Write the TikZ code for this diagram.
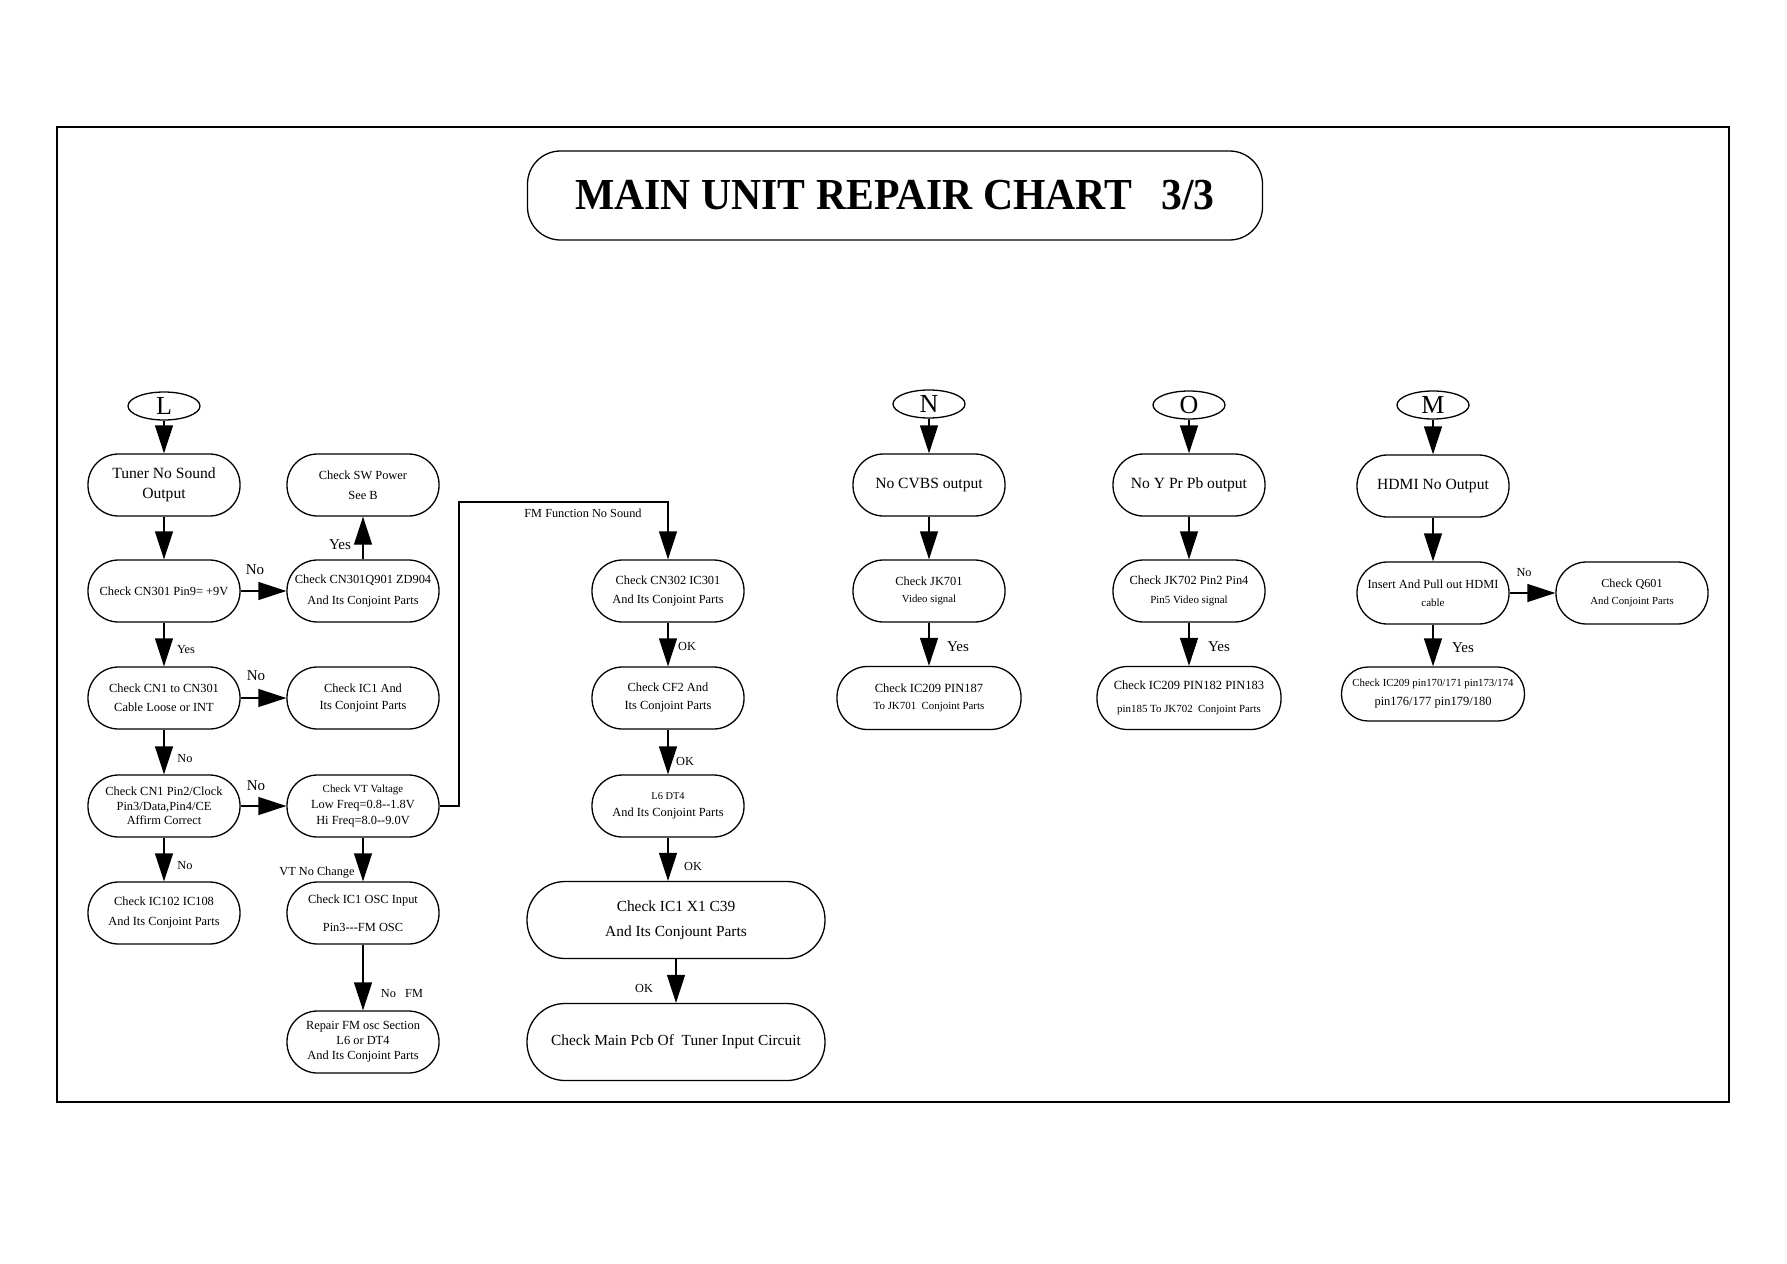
\documentclass[tikz,border=0pt]{standalone}
\usepackage{fontspec}
\setmainfont{Liberation Serif}
\usetikzlibrary{positioning,arrows.meta,shapes.geometric}
\newcommand{\fsz}[2]{\fontsize{#1}{#2}\selectfont}
\tikzset{
  pill/.style={draw, rectangle, line width=1.3pt, rounded corners=30.5pt, minimum width=152pt, minimum height=62pt, inner sep=0pt, align=center, font=\fsz{12.4}{19}},
  widepill/.style={pill, minimum width=184pt, minimum height=63pt},
  flatpill/.style={pill, minimum width=183pt, minimum height=54pt, rounded corners=26.5pt},
  bigpill/.style={pill, minimum width=298pt, minimum height=77pt, rounded corners=38pt, font=\fsz{15.4}{25}},
  oval/.style={ellipse, draw, line width=1.3pt, minimum width=72pt, minimum height=28pt, inner sep=0pt, font=\fsz{26}{26}},
  arr/.style={line width=1.3pt, -{Triangle[length=28pt,width=18pt]}},
  lbl/.style={inner sep=0pt, font=\fsz{12.3}{14}},
  biglbl/.style={inner sep=0pt, font=\fsz{15}{18}},
}
\begin{document}
\begin{tikzpicture}[x=1pt, y=-1pt]
  \useasboundingbox (0,0) rectangle (1787,1263);
  \draw[line width=1.4pt] (57,127) rectangle (1729,1102);
  \node[draw, line width=1.3pt, rounded corners=33pt, minimum width=735pt, minimum height=89pt, font=\fsz{43}{50}\bfseries] (title) at (895,195.5) {\scalebox{0.97}[1.03]{MAIN UNIT REPAIR CHART\hspace{30pt}3/3}};

  % L column
  \node[oval] (L) at (164,406) {L};
  \node[pill, font=\fsz{15.6}{20}] (tuner) at (164,485) {Tuner No Sound\\Output};
  \node[pill] (cn301) at (164,591) {Check CN301 Pin9= +9V};
  \node[pill] (cnone) at (164,698) {Check CN1 to CN301\\Cable Loose or INT};
  \node[pill, font=\fsz{12.4}{14.5}] (pintwo) at (164,806) {Check CN1 Pin2/Clock\\Pin3/Data,Pin4/CE\\Affirm Correct};
  \node[pill, font=\fsz{12.4}{20}] (icnum) at (164,913) {Check IC102 IC108\\And Its Conjoint Parts};

  \node[pill, font=\fsz{12.4}{20}] (swpow) at (363,485) {Check SW Power\\See B};
  \node[pill, font=\fsz{12.4}{21}] (cnq) at (363,591) {Check CN301Q901 ZD904\\And Its Conjoint Parts};
  \node[pill, font=\fsz{12.4}{17}] (icone) at (363,698) {Check IC1 And\\Its Conjoint Parts};
  \node[pill, font=\fsz{12.4}{16}] (vt) at (363,806) {{\fsz{10.9}{16}Check VT Valtage}\\Low Freq=0.8-{}-1.8V\\Hi Freq=8.0-{}-9.0V};
  \node[pill, font=\fsz{12.4}{28}] (osc) at (363,913) {Check IC1 OSC Input\\Pin3-{}-{}-FM OSC};
  \node[pill, font=\fsz{12.4}{15}] (repair) at (363,1042) {Repair FM osc Section\\L6 or DT4\\And Its Conjoint Parts};

  \node[pill] (cnthree) at (668,591) {Check CN302 IC301\\And Its Conjoint Parts};
  \node[pill, font=\fsz{12.4}{18}] (cftwo) at (668,698) {Check CF2 And\\Its Conjoint Parts};
  \node[pill, font=\fsz{12.4}{17}] (lsix) at (668,806) {{\fsz{10.4}{17}L6 DT4}\\And Its Conjoint Parts};
  \node[bigpill] (icx) at (676,920) {Check IC1 X1 C39\\And Its Conjount Parts};
  \node[bigpill] (mainpcb) at (676,1042) {Check Main Pcb Of\ \ Tuner Input Circuit};

  \draw[arr] (L) -- (tuner);
  \draw[arr] (tuner) -- (cn301);
  \draw[arr] (cn301) -- (cnq);
  \draw[arr] (cnq) -- (swpow);
  \draw[arr] (cn301) -- (cnone);
  \draw[arr] (cnone) -- (icone);
  \draw[arr] (cnone) -- (pintwo);
  \draw[arr] (pintwo) -- (vt);
  \draw[arr] (pintwo) -- (icnum);
  \draw[arr] (vt) -- (osc);
  \draw[arr] (osc) -- (repair);
  \coordinate (fmtop) at (459,502);
  \draw[arr] (vt.east) -| (fmtop) -| (cnthree.north);
  \draw[arr] (cnthree) -- (cftwo);
  \draw[arr] (cftwo) -- (lsix);
  \draw[arr] (lsix.south) -- (lsix.south |- icx.north);
  \draw[arr] (icx) -- (mainpcb);

  \node[biglbl] at (255,570) {No};
  \node[biglbl] at (340,545) {Yes};
  \node[lbl] at (186,650) {Yes};
  \node[biglbl] at (256,676) {No};
  \node[lbl] at (185,759) {No};
  \node[biglbl] at (256,786) {No};
  \node[lbl] at (185,866) {No};
  \node[lbl] at (317,873) {VT No Change};
  \node[lbl] at (402,994) {No\ \ \ FM};
  \node[lbl] at (583,513) {FM Function No Sound};
  \node[lbl] at (687,646) {OK};
  \node[lbl] at (685,761) {OK};
  \node[lbl] at (693,866) {OK};
  \node[lbl] at (644,988) {OK};

  % N, O, M columns
  \node[oval] (N) at (929,404) {N};
  \node[pill, font=\fsz{15.6}{20}] (cvbs) at (929,485) {No CVBS output};
  \node[pill, font=\fsz{12.4}{17}] (jkone) at (929,591) {Check JK701\\{\fsz{10.8}{17}Video signal}};
  \node[widepill, font=\fsz{12.5}{17}] (icpin) at (929,698) {Check IC209 PIN187\\{\fsz{10.9}{17}To JK701\ \ Conjoint Parts}};

  \node[oval] (O) at (1189,405) {O};
  \node[pill, font=\fsz{15.6}{20}] (ypb) at (1189,485) {No Y Pr Pb output};
  \node[pill, font=\fsz{12.4}{19}] (jktwo) at (1189,591) {Check JK702 Pin2 Pin4\\{\fsz{10.9}{19}Pin5 Video signal}};
  \node[widepill, font=\fsz{12.5}{23}] (icpins) at (1189,698) {Check IC209 PIN182 PIN183\\{\fsz{10.9}{23}pin185 To JK702\ \ Conjoint Parts}};

  \node[oval] (M) at (1433,405) {M};
  \node[pill, font=\fsz{15.6}{20}] (hdmi) at (1433,486) {HDMI No Output};
  \node[pill, font=\fsz{12.4}{18}] (insert) at (1433,593) {Insert And Pull out HDMI\\{\fsz{11}{18}cable}};
  \node[pill, font=\fsz{12.2}{17}] (qsix) at (1632,593) {Check Q601\\{\fsz{10.8}{17}And Conjoint Parts}};
  \node[flatpill, font=\fsz{12.5}{19}] (hpins) at (1433,694) {{\fsz{10.8}{19}Check IC209 pin170/171 pin173/174}\\pin176/177 pin179/180};

  \draw[arr] (N) -- (cvbs);
  \draw[arr] (cvbs) -- (jkone);
  \draw[arr] (jkone) -- (icpin);
  \draw[arr] (O) -- (ypb);
  \draw[arr] (ypb) -- (jktwo);
  \draw[arr] (jktwo) -- (icpins);
  \draw[arr] (M) -- (hdmi);
  \draw[arr] (hdmi) -- (insert);
  \draw[arr] (insert) -- (qsix);
  \draw[arr] (insert) -- (hpins);

  \node[biglbl] at (958,647) {Yes};
  \node[biglbl] at (1219,647) {Yes};
  \node[biglbl] at (1463,648) {Yes};
  \node[lbl] at (1524,573) {No};
\end{tikzpicture}
\end{document}
